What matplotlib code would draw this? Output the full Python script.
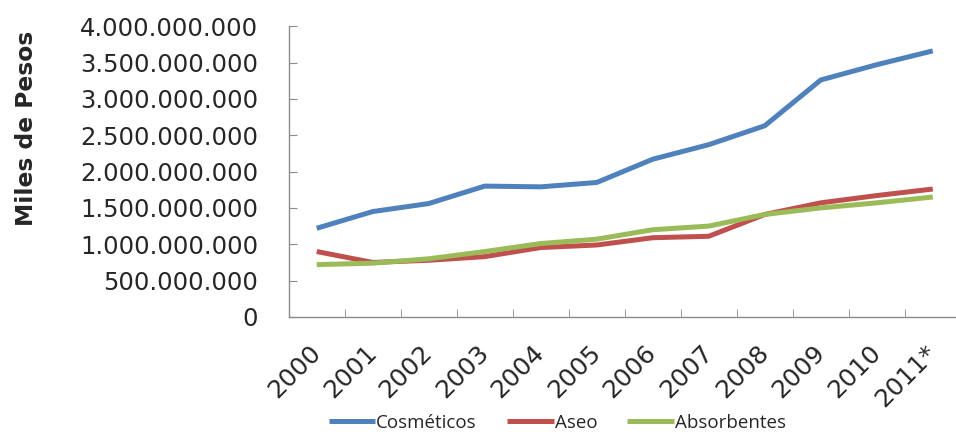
import matplotlib

matplotlib.use("Agg")
import matplotlib.pyplot as plt
from matplotlib.ticker import FixedLocator, FuncFormatter, MultipleLocator

# --- data (miles de pesos) ------------------------------------------------------
years = ["2000", "2001", "2002", "2003", "2004", "2005",
         "2006", "2007", "2008", "2009", "2010", "2011*"]
cosmeticos = [1.22e9, 1.45e9, 1.56e9, 1.80e9, 1.79e9, 1.85e9,
              2.17e9, 2.37e9, 2.63e9, 3.26e9, 3.47e9, 3.66e9]
aseo = [0.90e9, 0.75e9, 0.78e9, 0.83e9, 0.955e9, 0.99e9,
        1.09e9, 1.11e9, 1.41e9, 1.57e9, 1.67e9, 1.76e9]
absorbentes = [0.72e9, 0.74e9, 0.80e9, 0.90e9, 1.01e9, 1.07e9,
               1.20e9, 1.25e9, 1.41e9, 1.50e9, 1.57e9, 1.65e9]

series = [
    ("Cosméticos", cosmeticos, "#4F81BD"),
    ("Aseo", aseo, "#C0504D"),
    ("Absorbentes", absorbentes, "#9BBB59"),
]

AXIS_GREY = "#8C8C8C"
TEXT = "#262626"


def miles(v, _pos):
    return f"{v:,.0f}".replace(",", ".")


fig = plt.figure(figsize=(9.56, 4.36), dpi=100)
# plot area runs slightly past the right edge of the canvas
ax = fig.add_axes([0.302, 0.273, 0.703, 0.667])

x = list(range(len(years)))
for name, vals, color in series:
    ax.plot(x, vals, color=color, lw=3.6, label=name, solid_capstyle="butt")

ax.set_xlim(-0.5, len(years) - 0.5)
ax.set_ylim(0, 4e9)

for side in ("top", "right"):
    ax.spines[side].set_visible(False)
for side in ("left", "bottom"):
    ax.spines[side].set_color(AXIS_GREY)
    ax.spines[side].set_linewidth(1.0)

# y axis: ticks inside, dotted thousands
ax.yaxis.set_major_locator(MultipleLocator(5e8))
ax.yaxis.set_major_formatter(FuncFormatter(miles))
ax.tick_params(axis="y", direction="in", length=6, color=AXIS_GREY,
               pad=22, labelsize=17.5, labelcolor=TEXT)

# x axis: labels at category centres, tick marks at category boundaries
ax.set_xticks(x)
ax.set_xticklabels(years, rotation=45, ha="right", va="center",
                   rotation_mode="anchor")
ax.tick_params(axis="x", which="major", length=0, pad=23,
               labelsize=18, labelcolor=TEXT)
ax.xaxis.set_minor_locator(FixedLocator([i + 0.5 for i in x]))
ax.tick_params(axis="x", which="minor", direction="in", length=5.5,
               color=AXIS_GREY)

fig.text(0.028, 0.705, "Miles de Pesos", rotation=90, ha="center",
         va="center", fontsize=16.8, fontweight="bold", color=TEXT)

fig.legend(loc="center", bbox_to_anchor=(0.583, 0.030), ncol=3,
           frameon=False, handlelength=2.5, handletextpad=0.05,
           columnspacing=1.6, prop={"family": "Open Sans", "size": 13.5},
           labelcolor=TEXT)

fig.savefig("out.png", dpi=100, facecolor="white")
